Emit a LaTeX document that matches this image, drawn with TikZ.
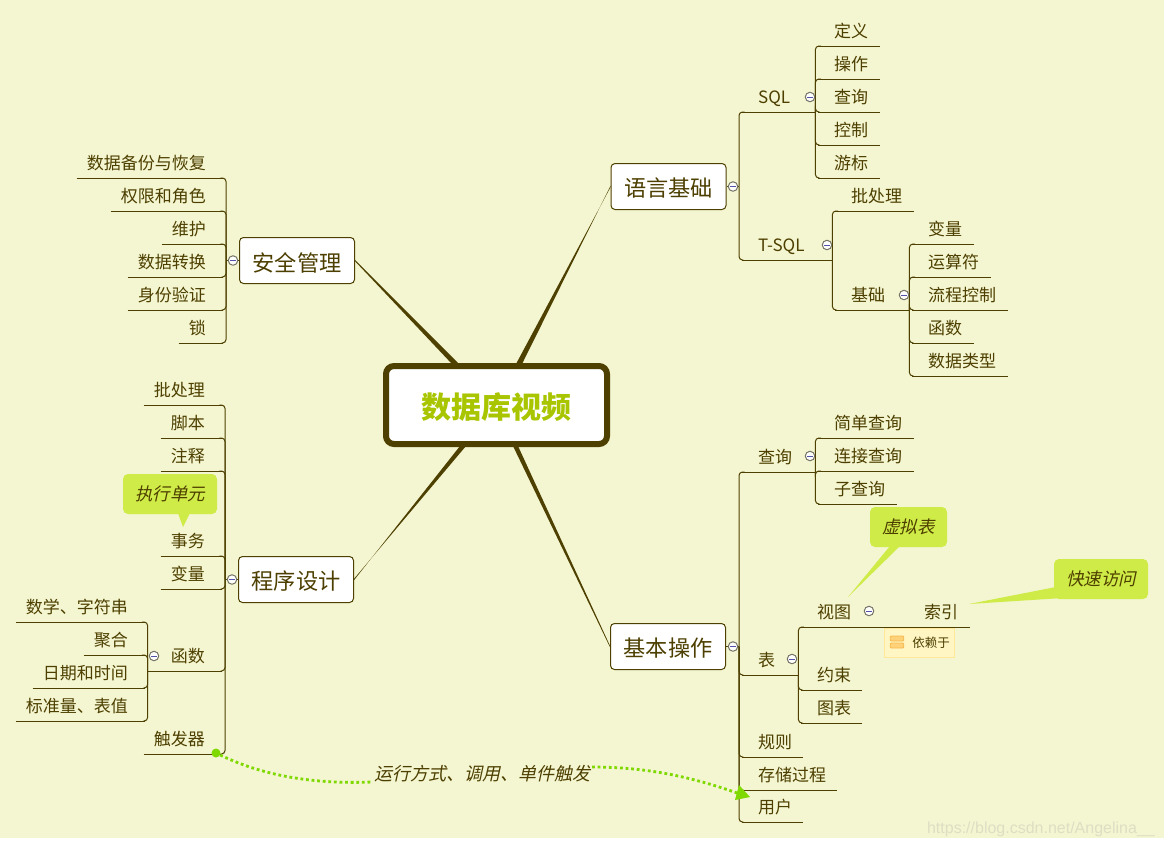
\documentclass[tikz,border=0pt]{standalone}
\usepackage{fontspec}
\setmainfont{Noto Sans CJK SC}
\newfontfamily\slantcjk[FakeSlant=0.22]{Noto Sans CJK SC}
\newfontfamily\wmfont{Liberation Sans}
\usetikzlibrary{calc,arrows.meta}
\definecolor{bgc}{HTML}{F4F6D1}
\definecolor{linec}{HTML}{4D4000}
\definecolor{txtc}{HTML}{4D3F00}
\definecolor{rootc}{HTML}{A9C500}
\definecolor{callc}{HTML}{CFEB47}
\definecolor{relc}{HTML}{7FD800}
\definecolor{depfill}{HTML}{FFF6C4}
\definecolor{depline}{HTML}{FFE89A}
\definecolor{iconfill}{HTML}{FFD27A}
\definecolor{iconline}{HTML}{F4B84A}
\newcommand{\lowerby}[1]{\raisebox{-2pt}[\height][\depth]{#1}}
\tikzset{
  x=1pt,y=-1pt,
  base/.style={text=txtc,font=\fontsize{17}{20}\selectfont,inner sep=0pt},
  leafr/.style={base,anchor=south west,minimum height=30pt,text width=#1pt,align=left,execute at begin node={\hspace*{16pt}}},
  leafl/.style={base,anchor=south east,minimum height=30pt,text width=#1pt,align=right,execute at end node={\hspace*{17pt}}},
  ul/.style={draw=linec,line width=1pt},
  conn/.style={draw=linec,line width=1pt,rounded corners=3.5pt},
  mainbox/.style={base,draw=linec,fill=white,line width=1pt,rounded corners=4pt,minimum width=115pt,minimum height=46pt,font=\fontsize{22.2}{26}\selectfont},
  rootbox/.style={draw=linec,fill=white,line width=6pt,rounded corners=8pt,minimum width=221pt,minimum height=78pt,inner sep=0pt,text=rootc,font=\fontsize{30}{34}\selectfont\bfseries},
  branch/.style={fill=linec},
  collapse/.style={circle,draw=gray!80!linec,fill=white!92!bgc,line width=1pt,minimum size=9.5pt,inner sep=0pt,
    path picture={\draw[line width=1pt,blue!35!gray] ([xshift=2.2pt]path picture bounding box.west) -- ([xshift=-2.2pt]path picture bounding box.east);}},
  callout/.style={fill=callc,rounded corners=5pt,inner sep=0pt,text=txtc,font=\fontsize{17.5}{20}\slantcjk},
  tail/.style={fill=callc},
  rel/.style={draw=relc,line width=2.8pt,dash pattern=on 2.8pt off 2.8pt},
  depicon/.style={draw=iconline,fill=iconfill,line width=.8pt,rounded corners=1pt,minimum width=13.5pt,minimum height=5pt,inner sep=0pt},
}
\begin{document}
\begin{tikzpicture}
\useasboundingbox (0,0) rectangle (1164,847);
\fill[white] (0,0) rectangle (1164,847);
\fill[bgc] (0,0) rectangle (1164,838);

% main boxes
\node[mainbox] (lang) at (668.5,186.5) {\lowerby{语言基础}};
\node[mainbox] (basic) at (668,646.5) {\lowerby{基本操作}};
\node[mainbox] (safe) at (297,260.5) {\lowerby{安全管理}};
\node[mainbox] (prog) at (296,579.5) {\lowerby{程序设计}};

% tapered branches
\fill[branch] ($(lang.west)+(0,-.7)$) -- (522,364) -- (516,364) -- ($(lang.west)+(0,.7)$) -- cycle;
\fill[branch] ($(basic.west)+(0,-.7)$) -- (518,446) -- (513,446) -- ($(basic.west)+(0,.7)$) -- cycle;
\fill[branch] ($(safe.east)+(0,-.7)$) -- (459,364) -- (452,364) -- ($(safe.east)+(0,.7)$) -- cycle;
\fill[branch] ($(prog.east)+(0,-.7)$) -- (466,446) -- (460,446) -- ($(prog.east)+(0,.7)$) -- cycle;
\node[rootbox] (root) at (496.5,405) {\lowerby{数据库视频}};

% language basics
\coordinate (langt) at (739,186.5);
\node[leafr=73] (sql) at (742,112) {\lowerby{SQL}};
\node[leafr=90] (tsql) at (742,260) {\lowerby{T-SQL}};
\node[leafr=62] (s1) at (818,46) {定义};
\node[leafr=62] (s2) at (818,79) {操作};
\node[leafr=62] (s3) at (818,112) {查询};
\node[leafr=62] (s4) at (818,145) {控制};
\node[leafr=62] (s5) at (818,178) {游标};
\node[leafr=79] (t1) at (835,211) {批处理};
\node[leafr=74] (t2) at (835,310) {基础};
\node[leafr=62] (b1) at (912,244) {变量};
\node[leafr=79] (b2) at (912,277) {运算符};
\node[leafr=96] (b3) at (912,310) {流程控制};
\node[leafr=62] (b4) at (912,343) {函数};
\node[leafr=96] (b5) at (912,376) {数据类型};

% basic operations
\coordinate (basict) at (739,646.5);
\node[leafr=73] (qry) at (742,472) {查询};
\node[leafr=56] (tbl) at (742,675) {表};
\node[leafr=61] (rule) at (742,757) {规则};
\node[leafr=95] (proc) at (742,790) {存储过程};
\node[leafr=61] (user) at (742,822) {用户};
\node[leafr=96] (q1) at (818,438) {简单查询};
\node[leafr=96] (q2) at (818,471) {连接查询};
\node[leafr=79] (q3) at (818,504) {子查询};
\node[leafr=79] (view) at (801,627) {视图};
\node[leafr=61] (cons) at (801,690) {约束};
\node[leafr=61] (chart) at (801,723) {图表};
\node[leafr=90] (idx) at (880,627) {\hspace*{28pt}索引};

% security
\coordinate (safet) at (226,260.5);
\node[leafl=146] (a1) at (223,178) {数据备份与恢复};
\node[leafl=112] (a2) at (223,211) {权限和角色};
\node[leafl=61] (a3) at (223,244) {维护};
\node[leafl=95] (a4) at (223,277) {数据转换};
\node[leafl=95] (a5) at (223,310) {身份验证};
\node[leafl=44] (a6) at (223,343) {锁};

% programming
\coordinate (progt) at (225,579.5);
\node[leafl=78] (p1) at (222,405) {批处理};
\node[leafl=61] (p2) at (222,438) {脚本};
\node[leafl=61] (p3) at (222,471) {注释};
\node[leafl=61] (p4) at (222,556) {事务};
\node[leafl=61] (p5) at (222,589) {变量};
\node[leafl=74] (p6) at (222,671) {函数};
\node[leafl=78] (p7) at (222,754) {触发器};
\node[leafl=129] (f1) at (145,622) {数学、字符串};
\node[leafl=61] (f2) at (145,655) {聚合};
\node[leafl=112] (f3) at (145,688) {日期和时间};
\node[leafl=129] (f4) at (145,721) {标准量、表值};

% underlines
\foreach \n in {sql,tsql,s1,s2,s3,s4,s5,t1,t2,b1,b2,b3,b4,b5,qry,tbl,rule,proc,user,q1,q2,q3,view,cons,chart,idx,a1,a2,a3,a4,a5,a6,p1,p2,p3,p4,p5,p6,p7,f1,f2,f3,f4}
  \draw[ul] (\n.south west) -- (\n.south east);

% connectors
\draw[ul] (lang.east) -- (langt);
\draw[ul] (basic.east) -- (basict);
\draw[ul] (safe.west) -- (safet);
\draw[ul] (prog.west) -- (progt);
\foreach \c in {sql,tsql} \draw[conn] (langt) |- (\c.south west);
\foreach \c in {s1,s2,s3,s4,s5} \draw[conn] (sql.south east) |- (\c.south west);
\foreach \c in {t1,t2} \draw[conn] (tsql.south east) |- (\c.south west);
\foreach \c in {b1,b2,b3,b4,b5} \draw[conn] (t2.south east) |- (\c.south west);
\foreach \c in {qry,tbl,rule,proc,user} \draw[conn] (basict) |- (\c.south west);
\foreach \c in {q1,q2,q3} \draw[conn] (qry.south east) |- (\c.south west);
\foreach \c in {view,cons,chart} \draw[conn] (tbl.south east) |- (\c.south west);
\foreach \c in {a1,a2,a3,a4,a5,a6} \draw[conn] (safet) |- (\c.south east);
\foreach \c in {p1,p2,p3,p4,p5,p6,p7} \draw[conn] (progt) |- (\c.south east);
\foreach \c in {f1,f2,f3,f4} \draw[conn] (p6.south west) |- (\c.south east);

% collapse markers
\node[collapse] (langc) at (733,186.5) {};
\node[collapse] (sqlc) at (810,97) {};
\node[collapse] (tsqlc) at (827,245) {};
\node[collapse] (t2c) at (904,295) {};
\node[collapse] (basicc) at (733,646.5) {};
\node[collapse] (qryc) at (810,456) {};
\node[collapse] (tblc) at (792,659) {};
\node[collapse] (viewc) at (869,611) {};
\node[collapse] (safec) at (233,260.5) {};
\node[collapse] (progc) at (232,579.5) {};
\node[collapse] (p6c) at (154,656) {};

% depends-on marker
\node[draw=depline,fill=depfill,line width=1pt,minimum width=70pt,minimum height=29pt,inner sep=0pt] (dep) at (919.5,642.5) {};
\node[text=txtc,font=\fontsize{12.5}{15}\selectfont,inner sep=0pt] (deptext) at (931,642.5) {依赖于};
\node[depicon] (depa) at (897,638.5) {};
\node[depicon] (depb) at (897,645.5) {};

% callouts
\coordinate (tipa) at (183,527);
\coordinate (tipb) at (848,597);
\coordinate (tipc) at (969,604);
\node[callout,minimum width=94pt,minimum height=40pt] (ca) at (170,494) {执行单元};
\node[callout,minimum width=77pt,minimum height=40pt] (cb) at (908.5,527) {虚拟表};
\node[callout,minimum width=94pt,minimum height=40pt] (cc) at (1101,579) {快速访问};
\fill[tail] ($(ca.south)+(8,-1)$) -- ($(ca.south)+(20,-1)$) -- (tipa) -- cycle;
\fill[tail] ($(cb.south west)+(30,-1)$) -- ($(cb.south west)+(20,-1)$) -- (tipb) -- cycle;
\fill[tail] ($(cc.south west)+(1,-12)$) -- ($(cc.south west)+(6,-1)$) -- (tipc) -- cycle;

% relationship
\node[circle,fill=relc,minimum size=9pt,inner sep=0pt] (dot) at (216,753) {};
\node[text=txtc,inner sep=0pt,font=\fontsize{18}{20}\slantcjk] (rlabel) at (482,774) {运行方式、调用、单件触发};
\coordinate (relstart) at (372,782);
\coordinate (relcont) at (592,767);
\coordinate (relend) at (750,797);
\draw[rel] (dot) .. controls (268,778) and (320,784) .. (relstart);
\draw[rel] (relcont) .. controls (650,767) and (695,778) .. (740,794);
\fill[relc] (739,785) -- (relend) -- (735,800) -- cycle;

% watermark
\node[anchor=east,inner sep=0pt,text=black!12!bgc!85!white,font=\fontsize{16}{20}\wmfont] (wm) at (1155,829) {https://blog.csdn.net/Angelina\_\_};
\end{tikzpicture}
\end{document}
